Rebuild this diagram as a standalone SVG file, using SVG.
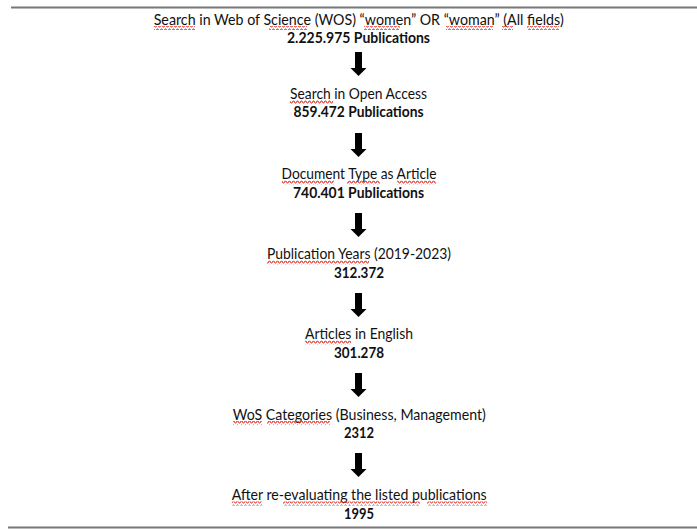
<svg xmlns="http://www.w3.org/2000/svg" width="697" height="529" viewBox="0 0 697 529">
<defs>
<pattern id="sq" patternUnits="userSpaceOnUse" width="4" height="4">
<polyline points="0,3 1,1 2,1 3,3 4,3" fill="none" stroke="#e0302a" stroke-width="1"/>
</pattern>
<path id="arr" d="M-3.5,0 H3.5 V16 H8 L0,24 L-8,16 H-3.5 Z"/>
</defs>
<style>
text{font-family:Lato,"Liberation Sans",sans-serif;font-size:15.2px;fill:#111;text-anchor:middle}
.b{font-weight:bold}
.rule{stroke:#777;stroke-width:2}
.w{fill:url(#sq)}
.a{fill:#000}
</style>
<rect width="697" height="529" fill="#fff"/>
<line class="rule" x1="11" y1="7.5" x2="697" y2="7.5"/>
<line class="rule" x1="8" y1="527.5" x2="697" y2="527.5"/>

<g id="n1">
<text x="358.7" y="24.5" textLength="410" lengthAdjust="spacingAndGlyphs">Search in Web of Science (WOS) “women” OR “woman” (All fields)</text>
<text class="b" x="358.5" y="43" textLength="143" lengthAdjust="spacingAndGlyphs">2.225.975 Publications</text>
<rect class="w" x="154" y="26" width="41" height="4"/>
<rect class="w" x="269" y="26" width="38" height="4"/>
<rect class="w" x="364" y="26" width="36" height="4"/>
<rect class="w" x="446" y="26" width="47" height="4"/>
<rect class="w" x="502" y="26" width="11" height="4"/>
<rect class="w" x="527" y="26" width="32" height="4"/>
</g>

<g id="n2">
<text x="358.5" y="98.5" textLength="137" lengthAdjust="spacingAndGlyphs">Search in Open Access</text>
<text class="b" x="358.5" y="117" textLength="130" lengthAdjust="spacingAndGlyphs">859.472 Publications</text>
<rect class="w" x="290" y="100" width="43" height="4"/>
</g>

<g id="n3">
<text x="359" y="179" textLength="155" lengthAdjust="spacingAndGlyphs">Document Type as Article</text>
<text class="b" x="358.5" y="197.5" textLength="131" lengthAdjust="spacingAndGlyphs">740.401 Publications</text>
<rect class="w" x="282" y="180.5" width="52" height="4"/>
<rect class="w" x="347" y="180.5" width="33" height="4"/>
<rect class="w" x="397" y="180.5" width="39" height="4"/>
</g>

<g id="n4">
<text x="359" y="259" textLength="184" lengthAdjust="spacingAndGlyphs">Publication Years (2019-2023)</text>
<text class="b" x="359" y="277.5" textLength="50" lengthAdjust="spacingAndGlyphs">312.372</text>
<rect class="w" x="267" y="260.5" width="102" height="4"/>
</g>

<g id="n5">
<text x="359" y="339" textLength="108" lengthAdjust="spacingAndGlyphs">Articles in English</text>
<text class="b" x="359" y="357.5" textLength="50" lengthAdjust="spacingAndGlyphs">301.278</text>
<rect class="w" x="305" y="340.5" width="46" height="4"/>
</g>

<g id="n6">
<text x="359.3" y="419.5" textLength="253" lengthAdjust="spacingAndGlyphs">WoS Categories (Business, Management)</text>
<text class="b" x="359" y="438" textLength="30" lengthAdjust="spacingAndGlyphs">2312</text>
<rect class="w" x="233" y="421" width="29" height="4"/>
<rect class="w" x="267" y="421" width="63" height="4"/>
</g>

<g id="n7">
<text x="359.2" y="500" textLength="255" lengthAdjust="spacingAndGlyphs">After re-evaluating the listed publications</text>
<text class="b" x="359" y="518.5" textLength="30" lengthAdjust="spacingAndGlyphs">1995</text>
<rect class="w" x="232" y="501.5" width="30" height="4"/>
<rect class="w" x="283" y="501.5" width="137" height="4"/>
<rect class="w" x="427" y="501.5" width="60" height="4"/>
</g>

<g id="connectors">
<use class="a" href="#arr" x="358.5" y="52"/>
<use class="a" href="#arr" x="358.5" y="133"/>
<use class="a" href="#arr" x="358.5" y="213"/>
<use class="a" href="#arr" x="358.5" y="293"/>
<use class="a" href="#arr" x="358.5" y="373"/>
<use class="a" href="#arr" x="358.5" y="453"/>
</g>
</svg>
